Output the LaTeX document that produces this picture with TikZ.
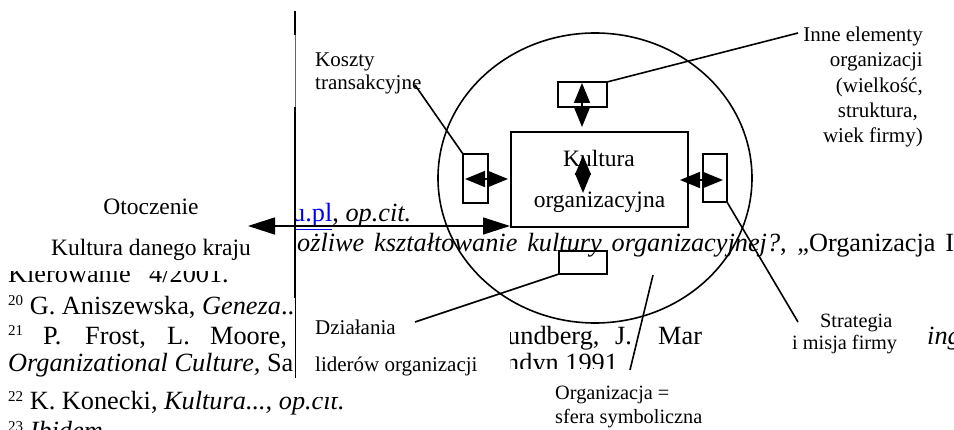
\documentclass[tikz,border=0pt]{standalone}
\usepackage{fontspec}
\setmainfont{Liberation Serif}
\usetikzlibrary{arrows.meta}
\newcommand\fnsup[1]{\raisebox{9pt}{\fontsize{15}{15}\selectfont #1}}
\begin{document}
\begin{tikzpicture}[x=1pt,y=-1pt,
  fn/.style={anchor=base west,inner sep=0pt,font=\fontsize{26.3}{30}\selectfont},
  lbl/.style={anchor=base west,inner sep=0pt,font=\fontsize{21}{25}\selectfont},
  lblr/.style={anchor=base east,inner sep=0pt,font=\fontsize{21}{25}\selectfont},
  big/.style={anchor=base,inner sep=0pt,font=\fontsize{23.5}{28}\selectfont},
  sm/.style={anchor=base west,inner sep=0pt,font=\fontsize{20.3}{24}\selectfont},
  wbox/.style={fill=white,draw=none},
  box/.style={draw,line width=1.6pt,inner sep=0pt,outer sep=0pt},
  ln/.style={line width=1.6pt},
  dbl/.style={line width=1.6pt,{Triangle[length=20pt,width=16pt]}-{Triangle[length=20pt,width=16pt]}},
  dblbig/.style={line width=1.6pt,{Triangle[length=27pt,width=17pt]}-{Triangle[length=27pt,width=17pt]}}
]
\clip (0,0) rectangle (954,430);
\fill[white] (0,0) rectangle (954,430);

% footnote text in the background
\node[fn] (f1) at (292,222) {\textcolor{blue}{\underline{u.pl}}, \textit{op.cit.}};
\node[fn] (f2) at (278,252) {\makebox[676pt][s]{\textit{możliwe kształtowanie kultury organizacyjnej?}, „Organizacja I}};
\node[fn] (f3) at (8,283) {Kierowanie” 4/2001.};
\node[fn] (f4) at (8,315) {\fnsup{20} G. Aniszewska, \textit{Geneza}..};
\node[fn] (f5a) at (8,345) {\fnsup{21}};
\node[fn] (f5b) at (43,345) {P.};
\node[fn] (f5c) at (85,345) {Frost,};
\node[fn] (f5d) at (167,345) {L.};
\node[fn] (f5e) at (210,345) {Moore,};
\node[fn] (f5f) at (507,345) {undberg,};
\node[fn] (f5g) at (615,345) {J.};
\node[fn] (f5h) at (658,345) {Mar};
\node[fn] (f5i) at (927,345) {\textit{ing}};
\node[fn] (f6a) at (8,372) {\textit{Organizational Culture,} Sa};
\node[fn] (f6b) at (506,372) {ndyn 1991};
\node[fn] (f7) at (8,410) {\fnsup{22} K. Konecki, \textit{Kultura..., op.cit.}};
\node[fn] (f8) at (8,440) {\fnsup{23} \textit{Ibidem}};

% white text boxes of the diagram
\fill[wbox] (0,180) rectangle (295,271);
\fill[wbox] (295,288) rectangle (510,397);
\fill[wbox] (505,369) rectangle (720,430);

% vertical rule
\coordinate (v0) at (295,11);
\coordinate (v1) at (295,35);
\coordinate (v2) at (295,107);
\coordinate (v3) at (295,298);
\coordinate (v4) at (295,378);
\draw[line width=1.8pt] (v0) -- (v1);
\draw[line width=0.8pt,black!60] (v1) -- (v2);
\draw[line width=1.8pt] (v2) -- (v3);
\draw[line width=0.9pt] (v3) -- (v4);

% organisation circle
\draw[ln] (595,178) ellipse [x radius=157pt, y radius=145pt];

% boxes
\node[box,minimum width=177pt,minimum height=95pt] (kult) at (599.5,179.5) {};
\node[box,minimum width=25pt,minimum height=49pt] (lbx) at (475.5,178.5) {};
\node[box,minimum width=24pt,minimum height=48pt] (rbx) at (715,178) {};
\node[box,minimum width=49pt,minimum height=25pt] (tbx) at (582.5,94.5) {};
\node[box,minimum width=48pt,minimum height=23pt] (bbx) at (583,262.5) {};

% labels
\node[big] (k1) at (599,167) {Kultura};
\node[big] (k2) at (599.5,208) {organizacyjna};
\node[big] (o1) at (151,215) {Otoczenie};
\node[big] (o2) at (151,256) {Kultura danego kraju};
\node[lbl] (t1) at (315,67) {Koszty};
\node[lbl] (t2) at (315,90) {transakcyjne};
\node[lblr] (i1) at (923,42) {Inne elementy};
\node[lblr] (i2) at (923,67) {organizacji};
\node[lblr] (i3) at (923,93) {(wielkość,};
\node[lblr] (i4) at (918,118) {struktura,};
\node[lblr] (i5) at (923,143) {wiek firmy)};
\node[lbl] (d1) at (315,335) {Działania};
\node[lbl] (d2) at (315,372) {liderów organizacji};
\node[sm] (s1) at (820,328) {Strategia};
\node[sm] (s2) at (792,350) {i misja firmy};
\node[sm] (g1) at (555,400) {Organizacja =};
\node[sm] (g2) at (555,424) {sfera symboliczna};

% connector end points
\coordinate (cK) at (415,85);
\coordinate (cI) at (798,33);
\coordinate (cD) at (415,322);
\coordinate (cS) at (798,322);
\coordinate (cO1) at (630,370);
\coordinate (cO2) at (653,275);
\coordinate (aL1) at (465,179);
\coordinate (aL2) at (508,179);
\coordinate (aR1) at (680,180);
\coordinate (aR2) at (723,180);
\coordinate (aT1) at (582,83);
\coordinate (aT2) at (582,127);
\coordinate (aI1) at (583,155);
\coordinate (aI2) at (583,193);
\coordinate (aB1) at (248,226);
\coordinate (aB2) at (510,226);

% connectors
\draw[ln] (cK) -- (lbx.north west);
\draw[ln] (tbx.north east) -- (cI);
\draw[ln] (cD) -- (bbx.south west);
\draw[ln] (rbx.south east) -- (cS);
\draw[ln] (cO1) -- (cO2);

% arrows
\draw[dbl] (aL1) -- (aL2);
\draw[dbl] (aR1) -- (aR2);
\draw[dbl] (aT1) -- (aT2);
\draw[dbl] (aI1) -- (aI2);
\draw[dblbig] (aB1) -- (aB2);
\end{tikzpicture}
\end{document}
